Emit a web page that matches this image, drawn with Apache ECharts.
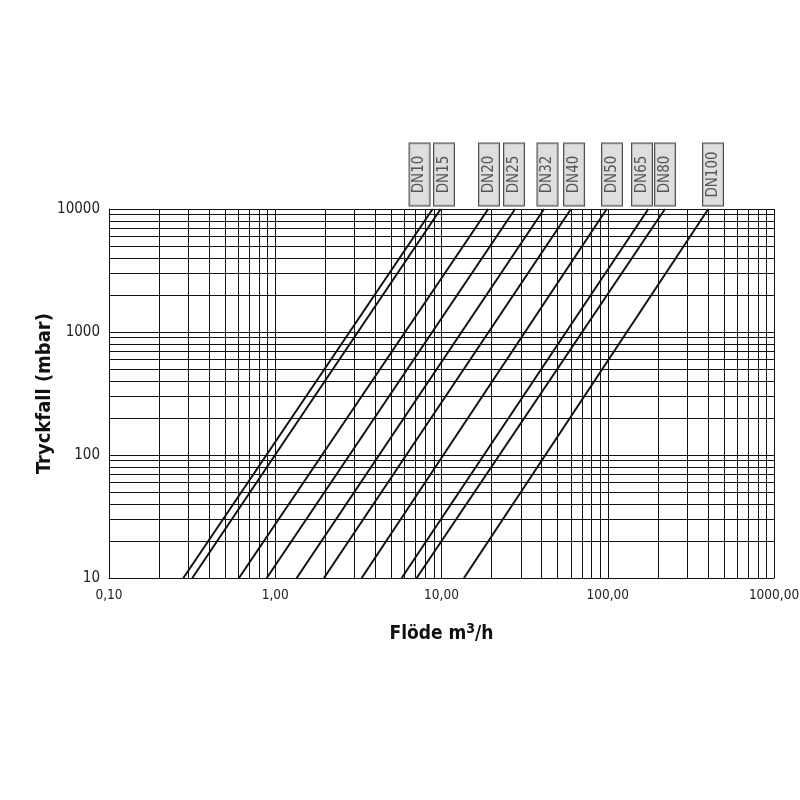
<!DOCTYPE html>
<html>
<head>
<meta charset="utf-8">
<script src="https://cdn.jsdelivr.net/npm/echarts@6/dist/echarts.min.js"></script>
<style>
html,body{margin:0;padding:0;background:#fff;}
#chart{width:800px;height:800px;}
</style>
</head>
<body>
<div id="chart"></div>
<script>
// Valve sizes
var sizes = ['DN10','DN15','DN20','DN25','DN32','DN40','DN50','DN65','DN80','DN100'];
// Flow (m3/h) where each line crosses 10 mbar
var flowAt10 = [0.280, 0.317, 0.605, 0.889, 1.346, 1.964, 3.31, 5.76, 7.09, 13.65];
// Flow (m3/h) where each line crosses 10000 mbar
var flowAt10000 = [8.85, 9.89, 19.1, 27.7, 41.4, 60.1, 98.6, 175.4, 220.9, 402.6];
// Pressure drops at the two ends (mbar)
var pLow = 10;
var pHigh = 10000;
// Flow positions of the size tags above the plot
var tagFlow = [7.38, 10.35, 19.31, 27.3, 43.4, 62.7, 106.1, 160.7, 220.9, 429.6];
// Tick label texts
var xTickLabels = {'0.1':'0,10','1':'1,00','10':'10,00','100':'100,00','1000':'1000,00'};
var yTickLabels = {'10':'10','100':'100','1000':'1000','10000':'10000'};
// Minor grid values
var xMinor = [0.2,0.3,0.4,0.5,0.6,0.7,0.8,0.9, 2,3,4,5,6,7,8,9, 20,30,40,50,60,70,80,90, 200,300,400,500,600,700,800,900];
var yMinor = [20,30,40,50,60,70,80,90, 200,300,400,500,600,700,800,900, 2000,3000,4000,5000,6000,7000,8000,9000];

var FONT = "'Liberation Sans Narrow','Arial Narrow','DejaVu Sans Condensed',sans-serif";
var chart = echarts.init(document.getElementById('chart'), null, {renderer:'canvas'});

var series = [];
sizes.forEach(function(name, i){
  series.push({
    name: name,
    type: 'line',
    data: [[flowAt10[i], pLow], [flowAt10000[i], pHigh]],
    symbol: 'none',
    lineStyle: {color:'#111', width:2},
    silent: true,
    z: 5
  });
});

// grid minor lines via markLine
var gridLines = [];
xMinor.forEach(function(v){ gridLines.push({xAxis: v}); });
yMinor.forEach(function(v){ gridLines.push({yAxis: v}); });
series.push({
  type: 'line',
  data: [],
  silent: true,
  markLine: {
    silent: true,
    symbol: ['none','none'],
    label: {show:false},
    lineStyle: {color:'#111', width:1, type:'solid'},
    emphasis: {disabled:true},
    animation: false,
    data: gridLines
  },
  z: 2
});

// size tags
series.push({
  type: 'scatter',
  data: sizes.map(function(n, i){ return {value:[tagFlow[i], pHigh], name:n}; }),
  symbolSize: 1,
  itemStyle: {color:'rgba(0,0,0,0)'},
  silent: true,
  clip: false,
  z: 10,
  label: {
    show: true,
    position: 'top',
    distance: 3,
    rotate: 90,
    align: 'left',
    verticalAlign: 'middle',
    formatter: function(p){ return '{a|' + p.name + '}'; },
    backgroundColor: '#d6d6d6',
    borderColor: '#222',
    borderWidth: 1,
    padding: [2, 5, 2, 5],
    rich: {
      a: {width: 52, align: 'center', fontSize: 15, lineHeight: 16, fontFamily: FONT, color:'#333'}
    }
  }
});

var option = {
  animation: false,
  backgroundColor: '#fff',
  grid: {left:109, right:26, top:209, bottom:222, containLabel:false, outerBoundsMode:'none'},
  xAxis: {
    type: 'log',
    logBase: 10,
    min: 0.1,
    max: 1000,
    name: '{a|Flöde m}{s|3}{a|/h}',
    nameLocation: 'middle',
    nameGap: 44,
    nameTextStyle: {
      rich: {
        a: {fontFamily: FONT, fontWeight:'bold', fontSize: 19, color:'#111', verticalAlign:'bottom', lineHeight: 22},
        s: {fontFamily: FONT, fontWeight:'bold', fontSize: 14, color:'#111', verticalAlign:'top', lineHeight: 22, padding:[0,0,10,0]}
      }
    },
    axisLine: {show:true, lineStyle:{color:'#111', width:1}},
    axisTick: {show:false},
    axisLabel: {
      show: true,
      fontFamily: FONT,
      fontSize: 13.5,
      color: '#222',
      margin: 10,
      formatter: function(v){ var k = String(+v.toPrecision(6)); return xTickLabels[k] || ''; }
    },
    splitLine: {show:true, lineStyle:{color:'#111', width:1}},
    minorTick: {show:false},
    minorSplitLine: {show:false}
  },
  yAxis: {
    type: 'log',
    logBase: 10,
    min: 10,
    max: 10000,
    name: 'Tryckfall (mbar)',
    nameLocation: 'middle',
    nameGap: 54,
    nameMoveOverlap: false,
    nameRotate: 90,
    nameTextStyle: {fontFamily: FONT, fontWeight:'bold', fontSize: 20, color:'#111'},
    axisLine: {show:true, lineStyle:{color:'#111', width:1}},
    axisTick: {show:false},
    axisLabel: {
      show:true, fontFamily: FONT, fontSize: 15, color:'#222', margin: 9,
      formatter: function(v){ var k = String(+v.toPrecision(6)); return yTickLabels[k] || ''; }
    },
    splitLine: {show:true, lineStyle:{color:'#111', width:1}}
  },
  series: series
};
chart.setOption(option);
</script>
</body>
</html>
